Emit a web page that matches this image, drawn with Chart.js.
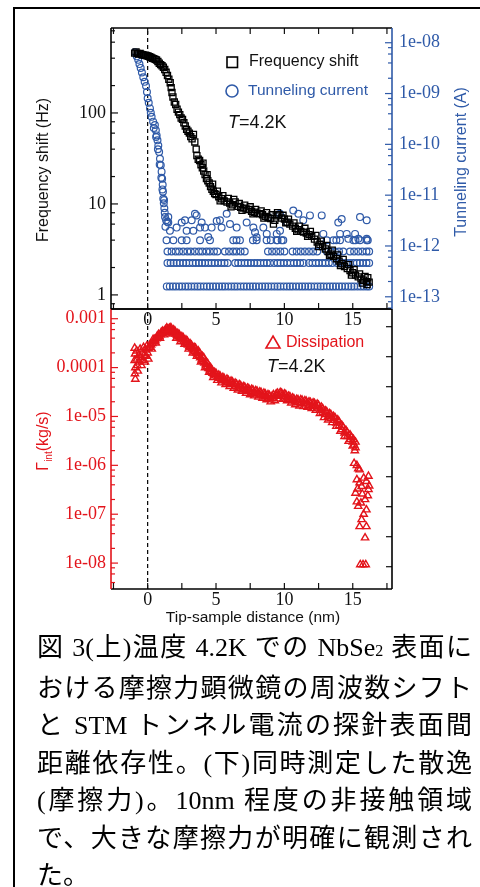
<!DOCTYPE html>
<html>
<head>
<meta charset="utf-8">
<script src="https://cdn.jsdelivr.net/npm/chart.js@4.4.1/dist/chart.umd.min.js"></script>
<style>
  html, body { margin: 0; padding: 0; background: #fff; }
  #page { position: relative; width: 480px; height: 887px; overflow: hidden; }
  #frame { position: absolute; left: 13px; top: 7px; width: 500px; height: 900px;
           border-left: 2px solid #000; border-top: 2px solid #000; }
  #bot { position: absolute; left: 0; top: 290px; z-index: 1; }
  #top { position: absolute; left: 0; top: 0; z-index: 2; }
  #cap { position: absolute; left: 37px; top: 629px; width: 435px; z-index: 3;
         font: 26px/37.5px "Liberation Serif", "Noto Sans CJK JP"; color: #000; }
  #cap div { text-align: justify; text-align-last: justify; white-space: nowrap; }
  #cap div.last { text-align-last: left; }
  #cap .sub { font-size: 16px; }
</style>
</head>
<body>
<div id="page">
  <div id="frame"></div>
  <canvas id="bot" width="480" height="350"></canvas>
  <canvas id="top" width="480" height="340"></canvas>
  <div id="cap">
    <div>図 3(上)温度 4.2K での NbSe<span class="sub">2</span> 表面に</div>
    <div>おける摩擦力顕微鏡の周波数シフト</div>
    <div>と STM トンネル電流の探針表面間</div>
    <div>距離依存性。(下)同時測定した散逸</div>
    <div>(摩擦力)。10nm 程度の非接触領域</div>
    <div>で、大きな摩擦力が明確に観測され</div>
    <div class="last">た。</div>
  </div>
</div>
<script>
// ── Data ───────────────────────────────────────────────
const X_MIN = -2.68, X_MAX = 17.87;
const xTickValues = [-2.5, 0, 2.5, 5, 7.5, 10, 12.5, 15, 17.5];
const xTickLabels = ['', '0', '', '5', '', '10', '', '15', ''];

const freqMajor = [1, 10, 100];
const freqMajorLabels = ['1', '10', '100'];
const freqMinor = [0.8, 2, 4, 6, 8, 20, 40, 60, 80, 200, 400, 600, 800];

const currentMajor = [1e-13, 1e-12, 1e-11, 1e-10, 1e-9, 1e-8];
const currentMajorLabels = ['1e-13', '1e-12', '1e-11', '1e-10', '1e-09', '1e-08'];
const currentMinor = [6e-14, 8e-14, 2e-13, 4e-13, 6e-13, 8e-13, 2e-12, 4e-12, 6e-12, 8e-12,
  2e-11, 4e-11, 6e-11, 8e-11, 2e-10, 4e-10, 6e-10, 8e-10, 2e-9, 4e-9, 6e-9, 8e-9];

const dissMajor = [1e-8, 1e-7, 1e-6, 1e-5, 1e-4, 1e-3];
const dissMajorLabels = ['1e-08', '1e-07', '1e-06', '1e-05', '0.0001', '0.001'];
const dissMinor = [4e-9, 6e-9, 8e-9, 2e-8, 4e-8, 6e-8, 8e-8, 2e-7, 4e-7, 6e-7, 8e-7,
  2e-6, 4e-6, 6e-6, 8e-6, 2e-5, 4e-5, 6e-5, 8e-5, 2e-4, 4e-4, 6e-4, 8e-4];
const dissRightTicks = [1, 2, 3, 4, 5, 6, 7, 8, 9];

// frequency shift (Hz) vs distance (nm)
const freqShift = [
  [-0.95,455],[-0.85,470],[-0.75,450],[-0.65,445],[-0.55,452],[-0.45,440],[-0.35,437],[-0.25,430],
  [-0.15,432],[-0.05,425],[0.05,420],[0.15,415],[0.25,408],[0.35,400],[0.45,396],[0.55,388],
  [0.65,382],[0.75,368],[0.85,352],[0.95,340],[1.05,330],[1.15,318],[1.25,300],[1.35,280],
  [1.45,258],[1.55,235],[1.65,215],[1.72,190],[1.78,168],[1.85,150],[1.95,132],[2.05,124],
  [2.15,110],[2.25,102],[2.35,96],[2.45,88],[2.55,85],[2.65,78],[2.75,72],[2.85,66],
  [2.95,63],[3.05,60],[3.15,55],[3.25,52],[3.35,58],[3.45,48],[3.55,40],[3.6,34],
  [3.7,31],[3.8,30],[3.9,27],[4.0,25],[4.1,23],[4.2,21],[4.3,19],[4.4,18],
  [4.5,17],[4.6,15.5],[4.7,14.5],[4.8,13.8],[4.9,13],[5.0,12.7],[5.2,12],[5.4,11.4],
  [5.6,10.8],[5.8,10.5],[6.0,10.2],[6.2,9.8],[6.4,10.5],[6.6,9.4],[6.8,9.2],[7.0,9.0],
  [7.2,8.8],[7.4,8.7],[7.6,8.3],[7.8,8.1],[8.0,7.9],[8.2,7.8],[8.4,7.6],[8.6,7.3],
  [8.8,7.1],[9.0,6.9],[9.2,6.0],[9.4,7.4],[9.6,7.6],[9.8,7.0],[10.0,6.8],[10.2,6.3],
  [10.4,6.0],[10.6,5.7],[10.8,5.4],[11.0,5.2],[11.2,5.0],[11.4,4.9],[11.6,4.8],[11.8,4.6],
  [12.0,4.4],[12.2,4.1],[12.4,3.8],[12.6,3.6],[12.8,3.4],[13.0,3.2],[13.2,3.0],[13.4,2.8],
  [13.6,2.65],[13.8,2.5],[14.0,2.35],[14.2,2.2],[14.4,2.05],[14.6,1.95],[14.8,1.85],[15.0,1.75],
  [15.2,1.65],[15.4,1.58],[15.6,1.5],[15.8,1.45],[16.0,1.4],[16.1,1.55],[16.2,1.38],
  [4.05,28],[4.35,21],[4.75,16.5],[5.1,13.8],[5.5,12.3],[5.9,11.5],[6.3,11.2],[6.7,10.1],
  [7.1,9.7],[7.5,9.3],[7.9,8.7],[8.3,8.4],[8.7,8.0],[9.1,7.6],[9.5,8.0],[9.9,7.5],
  [10.3,6.8],[10.7,6.2],[11.1,5.7],[11.5,5.4],[11.9,5.0],[12.3,4.5],[12.7,3.9],[13.1,3.5],
  [13.5,3.1],[13.9,2.75],[14.3,2.45],[14.7,2.15],[15.1,1.9],[15.5,1.7],[15.9,1.6],
  [5.3,10.8],[6.1,9.3],[6.9,8.5],[7.7,7.8],[8.5,7.0],[9.3,6.6],[10.1,6.2],[10.9,5.0],
  [11.7,4.4],[12.5,3.4],[13.3,2.7],[14.1,2.1],[14.9,1.65],[15.7,1.35],[16.05,1.3]
];

// tunneling current (A): steep part near contact
const tunnelCurve = [
  [-0.93,6.5e-9],[-0.8,5.4e-9],[-0.69,4.6e-9],[-0.6,3.8e-9],[-0.51,3.2e-9],[-0.42,2.6e-9],
  [-0.32,2.1e-9],[-0.22,1.7e-9],[-0.12,1.4e-9],[-0.05,1.07e-9],[0.0,8.1e-10],[0.08,6.6e-10],
  [0.17,5.1e-10],[0.23,4.2e-10],[0.29,3.5e-10],[0.4,2.8e-10],[0.53,2.4e-10],[0.6,1.9e-10],
  [0.66,1.5e-10],[0.72,1.2e-10],[0.78,9.5e-11],[0.84,7.1e-11],[0.9,5.2e-11],[0.96,3.9e-11],
  [1.02,2.9e-11],[1.06,2.1e-11],[1.1,1.6e-11],[1.12,1.17e-11],[1.14,8.5e-12],[1.18,6.9e-12],
  [1.22,5.5e-12],[1.25,4.5e-12],[1.27,3.7e-12],[1.35,3.2e-12],[1.44,3.0e-12],
  [0.45,2.1e-10],[0.62,1.4e-10],[0.75,8e-11],[0.88,4e-11],[1.0,2.2e-11],[1.08,1.3e-11],
  [1.2,8e-12],[1.3,2.4e-12]
];
// tunneling current: scattered noise above the floor
const tunnelNoise = [
  [1.51,3.7e-12],[1.51,2.9e-12],[1.63,2.0e-12],[2.12,2.3e-12],[2.49,2.9e-12],[2.73,3.2e-12],
  [2.85,2.0e-12],[3.22,3.2e-12],[3.34,2.0e-12],[3.46,4.3e-12],[3.58,4.0e-12],[3.83,2.3e-12],
  [3.95,2.9e-12],[4.19,2.3e-12],[4.43,1.5e-12],[4.68,2.3e-12],[5.05,3.1e-12],[5.29,3.2e-12],
  [5.41,2.3e-12],[5.78,4.3e-12],[6.02,2.7e-12],[6.51,2.3e-12],[7.24,2.9e-12],[7.73,2.3e-12],
  [7.85,1.86e-12],[7.97,1.48e-12],[8.46,2.3e-12],[8.71,1.73e-12],[8.82,3.7e-12],[9.44,1.73e-12],
  [9.68,2.0e-12],[9.68,4.3e-12],[10.17,2.9e-12],[10.65,5.0e-12],[11.02,4.3e-12],[11.38,3.2e-12],
  [11.87,4.0e-12],[12.73,4.0e-12],[12.85,1.73e-12],[13.94,2.9e-12],[14.19,3.4e-12],[14.07,1.73e-12],
  [14.56,1.73e-12],[14.68,1.38e-12],[15.17,1.73e-12],[15.41,1.38e-12],[15.53,3.7e-12],[16.02,3.2e-12],
  [16.02,1.38e-12]
];
// tunneling current: quantised floor rows (level, distances)
const floorLevels = [1.6e-13, 4.6e-13, 7.8e-13, 1.3e-12];
const floorDist = [
  [1.40,1.62,1.85,2.07,2.31,2.52,2.76,2.97,3.20,3.43,3.65,3.86,4.10,4.33,4.55,4.78,5.00,5.23,
   5.45,5.66,5.90,6.13,6.35,6.56,6.80,7.03,7.25,7.48,7.70,7.91,8.15,8.38,8.60,8.82,9.05,9.28,
   9.50,9.71,9.95,10.18,10.40,10.61,10.85,11.08,11.30,11.52,11.75,11.96,12.20,12.43,12.65,12.86,
   13.10,13.33,13.55,13.77,14.00,14.21,14.45,14.68,14.90,15.11,15.35,15.58,15.80,16.02,16.20],
  [1.45,1.68,1.90,2.12,2.35,2.60,2.82,3.05,3.30,3.52,3.75,3.98,4.20,4.45,4.68,4.90,5.15,5.40,
   5.62,5.85,6.40,6.62,6.85,7.10,7.32,7.55,7.80,8.02,8.25,8.50,8.72,8.95,9.25,9.50,9.72,9.95,
   10.20,10.45,10.70,10.92,11.15,11.40,11.80,12.05,12.30,12.52,12.78,13.00,13.25,13.50,13.85,
   14.10,14.32,14.55,14.80,15.05,15.30,15.52,15.75,16.00,16.20],
  [1.45,1.75,2.05,2.30,2.60,2.90,3.15,3.45,3.75,4.00,4.30,4.55,4.85,5.10,5.65,5.95,6.25,6.50,
   6.80,7.10,8.80,9.10,9.40,9.70,10.00,10.60,10.90,11.20,11.50,11.80,12.10,12.40,13.10,13.40,
   13.70,14.00,14.30,14.80,15.10,15.40,15.70,16.00,16.20],
  [1.38,1.88,2.49,2.85,3.83,4.56,6.26,6.50,6.75,7.70,7.97,8.70,9.00,9.43,9.50,9.80,9.92,13.10,
   13.58,13.80,14.07,15.05,15.20,15.53,16.02,16.10]
];

// dissipation (kg/s) vs distance (nm)
const dissipation = [
  [-0.95,2.5e-4],[-0.92,1.9e-4],[-0.95,1.4e-4],[-0.9,1.0e-4],[-0.93,7.5e-5],[-0.9,5.8e-5],
  [-0.8,2.2e-4],[-0.78,1.5e-4],[-0.75,1.1e-4],[-0.72,8.5e-5],[-0.65,1.8e-4],[-0.6,1.3e-4],
  [-0.55,2.4e-4],[-0.5,1.6e-4],[-0.45,1.1e-4],[-0.4,2.0e-4],[-0.35,1.4e-4],[-0.3,2.6e-4],
  [-0.25,1.8e-4],[-0.2,1.3e-4],[-0.15,2.3e-4],[-0.1,1.7e-4],[-0.05,2.8e-4],[0.0,2.0e-4],
  [0.05,1.5e-4],[0.05,2.5e-4],
  [0.15,2.6e-4],[0.25,2.9e-4],[0.35,3.1e-4],[0.45,3.4e-4],[0.55,3.6e-4],[0.65,3.9e-4],
  [0.75,4.1e-4],[0.85,4.4e-4],[0.95,4.7e-4],[1.05,5.0e-4],[1.15,5.3e-4],[1.25,5.5e-4],
  [1.35,5.8e-4],[1.45,6.0e-4],[1.55,6.1e-4],[1.65,6.0e-4],[1.75,5.8e-4],[1.85,5.5e-4],
  [1.95,5.2e-4],[2.05,4.9e-4],[2.15,4.6e-4],[2.25,4.3e-4],[2.35,4.1e-4],[2.45,3.9e-4],
  [2.55,3.7e-4],[2.65,3.5e-4],[2.75,3.3e-4],[2.85,3.1e-4],[2.95,2.9e-4],[3.05,2.7e-4],
  [3.15,2.6e-4],[3.25,2.45e-4],[3.35,2.3e-4],[3.45,2.15e-4],[3.55,2.0e-4],[3.65,1.9e-4],
  [3.75,1.75e-4],[3.85,1.6e-4],[3.95,1.45e-4],[4.05,1.35e-4],[4.15,1.25e-4],[4.25,1.15e-4],
  [4.35,1.05e-4],[4.45,9.6e-5],[4.55,9.0e-5],[4.65,8.3e-5],[4.75,7.7e-5],[4.85,7.2e-5],
  [4.95,6.8e-5],[5.1,6.4e-5],[5.25,6.1e-5],[5.4,5.7e-5],[5.55,5.4e-5],[5.7,5.1e-5],
  [5.85,4.9e-5],[6.0,4.7e-5],[6.2,4.5e-5],[6.4,4.2e-5],[6.6,4.0e-5],[6.8,3.8e-5],
  [7.0,3.6e-5],[7.2,3.4e-5],[7.4,3.3e-5],[7.6,3.1e-5],[7.8,3.0e-5],[8.0,2.9e-5],
  [8.2,2.8e-5],[8.4,2.7e-5],[8.6,2.55e-5],[8.8,2.4e-5],[9.0,2.3e-5],[9.2,2.4e-5],
  [9.4,2.6e-5],[9.6,2.7e-5],[9.8,2.6e-5],[10.0,2.55e-5],[10.2,2.4e-5],[10.4,2.2e-5],
  [10.6,2.1e-5],[10.8,2.0e-5],[11.0,1.95e-5],[11.2,1.9e-5],[11.4,1.85e-5],[11.6,1.8e-5],
  [11.8,1.7e-5],[12.0,1.65e-5],[12.2,1.6e-5],[12.4,1.5e-5],[12.6,1.35e-5],[12.8,1.2e-5],
  [13.0,1.1e-5],[13.2,1.0e-5],[13.4,9.2e-6],[13.6,8.4e-6],[13.8,7.4e-6],[14.0,6.5e-6],
  [14.2,5.4e-6],[14.4,4.6e-6],[14.6,3.9e-6],[14.8,3.4e-6],[15.0,3.0e-6],[15.1,2.6e-6],
  [15.2,2.3e-6],
  [0.3,2.4e-4],[0.6,3.2e-4],[0.9,4.0e-4],[1.2,4.7e-4],[1.5,5.2e-4],[1.8,4.9e-4],[2.1,4.0e-4],
  [2.4,3.4e-4],[2.7,3.0e-4],[3.0,2.4e-4],[3.3,2.0e-4],[3.6,1.7e-4],[3.9,1.3e-4],[4.2,1.0e-4],
  [4.5,8.0e-5],[4.8,6.3e-5],[5.1,5.5e-5],[5.4,4.9e-5],[5.7,4.5e-5],[6.0,4.1e-5],[6.3,3.8e-5],
  [6.6,3.5e-5],[6.9,3.3e-5],[7.2,3.0e-5],[7.5,2.8e-5],[7.8,2.65e-5],[8.1,2.5e-5],[8.4,2.35e-5],
  [8.7,2.2e-5],[9.0,2.0e-5],[9.3,2.1e-5],[9.6,2.3e-5],[9.9,2.25e-5],[10.2,2.1e-5],[10.5,1.9e-5],
  [10.8,1.75e-5],[11.1,1.65e-5],[11.4,1.6e-5],[11.7,1.55e-5],[12.0,1.45e-5],[12.3,1.35e-5],
  [12.6,1.15e-5],[12.9,9.5e-6],[13.2,8.5e-6],[13.5,7.5e-6],[13.8,6.3e-6],[14.1,5.0e-6],
  [14.4,3.9e-6],[14.7,3.1e-6],[15.0,2.5e-6],[15.15,2.0e-6],
  [0.4,3.8e-4],[0.8,4.8e-4],[1.1,5.6e-4],[1.4,6.5e-4],[1.7,6.6e-4],[2.0,5.6e-4],[2.3,4.8e-4],
  [2.6,4.1e-4],[2.9,3.5e-4],[3.2,2.9e-4],[3.5,2.5e-4],[3.8,2.0e-4],[4.1,1.6e-4],[4.4,1.2e-4],
  [4.7,9.0e-5],[5.0,7.6e-5],[5.3,6.7e-5],[5.6,6.0e-5],[5.9,5.5e-5],[6.2,5.1e-5],[6.5,4.6e-5],
  [6.8,4.3e-5],[7.1,4.0e-5],[7.4,3.7e-5],[7.7,3.5e-5],[8.0,3.3e-5],[8.3,3.1e-5],[8.6,2.9e-5],
  [8.9,2.7e-5],[9.2,2.8e-5],[9.5,3.0e-5],[9.8,3.0e-5],[10.1,2.8e-5],[10.4,2.55e-5],[10.7,2.3e-5],
  [11.0,2.2e-5],[11.3,2.15e-5],[11.6,2.05e-5],[11.9,1.95e-5],[12.2,1.85e-5],[12.5,1.7e-5],
  [12.8,1.45e-5],[13.1,1.25e-5],[13.4,1.1e-5],[13.7,9.5e-6],[14.0,7.8e-6],[14.3,6.0e-6],
  [14.6,4.7e-6],[14.9,3.8e-6],[15.2,3.0e-6],
  [0.2,3.0e-4],[0.5,3.8e-4],[0.7,4.4e-4],[1.0,5.3e-4],[1.3,6.0e-4],[1.6,6.4e-4],[1.9,5.9e-4],
  [2.2,5.0e-4],[2.5,4.3e-4],[2.8,3.7e-4],[3.1,3.1e-4],[3.4,2.6e-4],[3.7,2.2e-4],[4.0,1.7e-4],
  [4.3,1.3e-4],[4.6,1.0e-4],[4.9,8.0e-5],[5.2,7.0e-5],[5.5,6.3e-5],[5.8,5.8e-5],[6.1,5.3e-5],
  [6.4,4.8e-5],[6.7,4.5e-5],[7.0,4.1e-5],[7.3,3.8e-5],[7.6,3.6e-5],[7.9,3.4e-5],[8.2,3.2e-5],
  [8.5,3.0e-5],[8.8,2.8e-5],[9.1,2.6e-5],[9.4,2.9e-5],[9.7,3.1e-5],[10.0,2.9e-5],[10.3,2.6e-5],
  [10.6,2.4e-5],[10.9,2.25e-5],[11.2,2.2e-5],[11.5,2.1e-5],[11.8,2.0e-5],[12.1,1.9e-5],
  [12.4,1.8e-5],[12.7,1.55e-5],[13.0,1.3e-5],[13.3,1.15e-5],[13.6,1.0e-5],[13.9,8.5e-6],
  [14.2,6.6e-6],[14.5,5.2e-6],[14.8,4.2e-6],[15.05,3.4e-6],
  [15.1,1.1e-6],[15.3,1.0e-6],[15.4,8.5e-7],[15.5,8.1e-7],[15.3,5.1e-7],[16.0,4.7e-7],
  [15.65,3.7e-7],[16.15,3.2e-7],[16.15,6.0e-7],[15.2,2.7e-7],[15.9,2.0e-7],[15.4,1.45e-7],
  [16.0,1.23e-7],[15.65,7.8e-8],[16.0,5.6e-8],[15.5,5.6e-8],[15.9,3.3e-8],[15.55,9.3e-9],
  [15.75,9.3e-9],[15.95,9.3e-9],[15.5,4.4e-7],[15.8,5.5e-7],[15.7,2.6e-7],[16.1,2.4e-7],
  [15.35,3.3e-7],[15.6,1.7e-7],[15.8,1.0e-7],[15.3,1.8e-7],[16.2,3.8e-7]
];

// ── Styles ─────────────────────────────────────────────
const BLACK = '#111', BLUE = '#2f5aa8', RED = '#e3141b';
const SERIF = { family: '"Liberation Serif", serif', size: 18, lineHeight: 1 };
const SANS = '"Liberation Sans", Arial, sans-serif';

// ── Helpers ────────────────────────────────────────────
const pts = list => list.map(p => ({ x: p[0], y: p[1] }));

function tickList(major, minor) {
  return major.map(v => ({ value: v, major: true }))
    .concat(minor.map(v => ({ value: v, major: false })))
    .sort((a, b) => a.value - b.value);
}

function logAxis(pos, min, max, major, minor, labels, color, width, pad) {
  return {
    type: 'logarithmic', position: pos, min, max,
    grid: { display: false, drawTicks: false }, border: { display: false },
    afterBuildTicks: s => { s.ticks = tickList(major, minor); },
    afterFit: s => { s.width = width; },
    ticks: {
      autoSkip: false, padding: pad, color, font: SERIF,
      callback: v => { const i = major.indexOf(v); return i >= 0 ? labels[i] : ''; }
    }
  };
}

function xAxis(height) {
  return {
    type: 'linear', position: 'bottom', min: X_MIN, max: X_MAX,
    grid: { display: false, drawTicks: false }, border: { display: false },
    afterBuildTicks: s => { s.ticks = xTickValues.map(v => ({ value: v })); },
    afterFit: s => { s.height = height; },
    ticks: {
      autoSkip: false, maxRotation: 0, padding: 2, color: BLACK, font: SERIF,
      callback: (v, i) => xTickLabels[i]
    }
  };
}

function vline(yAxisID, lo, hi) {
  return {
    type: 'line', data: [{ x: 0, y: lo }, { x: 0, y: hi }], yAxisID,
    showLine: true, borderColor: '#000', borderWidth: 1.2, borderDash: [4, 3],
    pointRadius: 0
  };
}

function temp(ctx, x, y) {
  ctx.fillStyle = BLACK; ctx.textAlign = 'left'; ctx.textBaseline = 'middle';
  ctx.font = 'italic 18px ' + SANS;
  ctx.fillText('T', x, y);
  const w = ctx.measureText('T').width;
  ctx.font = '18px ' + SANS;
  ctx.fillText('=4.2K', x + w, y);
}

function vtext(ctx, str, x, y, color, size) {
  ctx.save();
  ctx.translate(x, y); ctx.rotate(-Math.PI / 2);
  ctx.fillStyle = color; ctx.font = size + 'px ' + SANS;
  ctx.textAlign = 'center'; ctx.textBaseline = 'middle';
  ctx.fillText(str, 0, 0);
  ctx.restore();
}

// tick marks drawn inward + frame + texts
function deco(cfg) {
  return {
    id: 'deco',
    afterDatasetsDraw(chart) {
      const ctx = chart.ctx, a = chart.chartArea;
      ctx.save();
      ctx.lineWidth = 1.2;
      cfg.ticks.forEach(t => {
        const s = chart.scales[t.axis];
        ctx.strokeStyle = t.color;
        s.ticks.forEach(tk => {
          const p = s.getPixelForValue(tk.value);
          const len = tk.label ? t.major : t.minor;
          ctx.beginPath();
          if (t.side === 'left')   { ctx.moveTo(a.left, p);   ctx.lineTo(a.left + len, p); }
          if (t.side === 'right')  { ctx.moveTo(a.right, p);  ctx.lineTo(a.right - len, p); }
          if (t.side === 'top')    { ctx.moveTo(p, a.top);    ctx.lineTo(p, a.top + len); }
          if (t.side === 'bottom') { ctx.moveTo(p, a.bottom); ctx.lineTo(p, a.bottom - len); }
          ctx.stroke();
        });
      });
      ctx.lineWidth = 1.6;
      const side = (c, x1, y1, x2, y2) => {
        ctx.strokeStyle = c; ctx.beginPath(); ctx.moveTo(x1, y1); ctx.lineTo(x2, y2); ctx.stroke();
      };
      side(cfg.frame.top, a.left, a.top, a.right, a.top);
      side(cfg.frame.bottom, a.left, a.bottom, a.right, a.bottom);
      side(cfg.frame.left, a.left, a.top, a.left, a.bottom);
      side(cfg.frame.right, a.right, a.top, a.right, a.bottom);
      cfg.draw(ctx);
      ctx.restore();
    }
  };
}

const base = {
  responsive: false, animation: false,
  plugins: { legend: { display: false }, tooltip: { enabled: false } }
};

// ── Top chart: frequency shift + tunneling current ─────
const curMin = 5.75e-14, curMax = 1.95e-8, fMin = 0.72, fMax = 859;
const floorPts = [];
floorLevels.forEach((lvl, i) => floorDist[i].forEach(x => floorPts.push({ x, y: lvl })));

new Chart(document.getElementById('top'), {
  type: 'scatter',
  data: {
    datasets: [
      { data: pts(freqShift), yAxisID: 'y', pointStyle: 'rect', pointRadius: 4.3,
        borderColor: '#000', borderWidth: 1.3, backgroundColor: 'rgba(255,255,255,0)' },
      { data: pts(tunnelCurve).concat(pts(tunnelNoise), floorPts), yAxisID: 'y2',
        pointStyle: 'circle', pointRadius: 3.4, borderColor: BLUE, borderWidth: 1.2,
        backgroundColor: 'rgba(255,255,255,0)' },
      vline('y', fMin, fMax)
    ]
  },
  options: Object.assign({}, base, {
    layout: { padding: { top: 28, left: 0, right: 0, bottom: 0 } },
    scales: {
      x: xAxis(31),
      y: logAxis('left', fMin, fMax, freqMajor, freqMinor, freqMajorLabels, BLACK, 111, 5),
      y2: logAxis('right', curMin, curMax, currentMajor, currentMinor, currentMajorLabels, BLUE, 88, 7)
    }
  }),
  plugins: [deco({
    ticks: [
      { axis: 'y', side: 'left', major: 7, minor: 4, color: BLACK },
      { axis: 'y2', side: 'right', major: 7, minor: 4, color: BLUE },
      { axis: 'x', side: 'top', major: 6, minor: 6, color: BLACK },
      { axis: 'x', side: 'bottom', major: 6, minor: 6, color: BLACK }
    ],
    frame: { top: '#000', bottom: '#000', left: '#000', right: BLUE },
    draw(ctx) {
      vtext(ctx, 'Frequency shift (Hz)', 44, 170, BLACK, 16);
      vtext(ctx, 'Tunneling current (A)', 462, 162, BLUE, 16);
      ctx.lineWidth = 1.6;
      ctx.strokeStyle = '#000';
      ctx.strokeRect(227, 57, 10.5, 10.5);
      ctx.strokeStyle = BLUE;
      ctx.beginPath(); ctx.arc(232, 91, 6, 0, Math.PI * 2); ctx.stroke();
      ctx.font = '16px ' + SANS; ctx.textAlign = 'left'; ctx.textBaseline = 'middle';
      ctx.fillStyle = BLACK; ctx.fillText('Frequency shift', 249, 62);
      ctx.font = '15.5px ' + SANS;
      ctx.fillStyle = BLUE; ctx.fillText('Tunneling current', 248, 91);
      temp(ctx, 228, 123);
    }
  })]
});

// ── Bottom chart: dissipation ──────────────────────────
const dMin = 2.95e-9, dMax = 1.58e-3;
new Chart(document.getElementById('bot'), {
  type: 'scatter',
  data: {
    datasets: [
      { data: pts(dissipation), yAxisID: 'y', pointStyle: 'triangle', pointRadius: 4.2,
        borderColor: RED, borderWidth: 1.4, backgroundColor: 'rgba(255,255,255,0)' },
      vline('y', dMin, dMax)
    ]
  },
  options: Object.assign({}, base, {
    layout: { padding: { top: 19, left: 0, right: 0, bottom: 0 } },
    scales: {
      x: xAxis(51),
      y: logAxis('left', dMin, dMax, dissMajor, dissMinor, dissMajorLabels, RED, 111, 5),
      yR: {
        type: 'linear', position: 'right', min: 0.257, max: 9.59,
        grid: { display: false, drawTicks: false }, border: { display: false },
        afterBuildTicks: s => { s.ticks = dissRightTicks.map(v => ({ value: v })); },
        afterFit: s => { s.width = 88; },
        ticks: { display: true, callback: () => '', padding: 0 }
      }
    }
  }),
  plugins: [deco({
    ticks: [
      { axis: 'y', side: 'left', major: 7, minor: 4, color: RED },
      { axis: 'yR', side: 'right', major: 6, minor: 6, color: BLACK },
      { axis: 'x', side: 'bottom', major: 6, minor: 6, color: BLACK }
    ],
    frame: { top: '#000', bottom: '#000', left: RED, right: '#000' },
    draw(ctx) {
      // Γint(kg/s), rotated
      ctx.save();
      ctx.translate(44, 151); ctx.rotate(-Math.PI / 2);
      ctx.fillStyle = RED; ctx.textAlign = 'left'; ctx.textBaseline = 'middle';
      ctx.font = '16px ' + SANS; const wG = ctx.measureText('Γ').width;
      const wK = ctx.measureText('(kg/s)').width;
      ctx.font = '10px ' + SANS; const wI = ctx.measureText('int').width;
      const x0 = -(wG + wI + wK) / 2;
      ctx.font = '16px ' + SANS; ctx.fillText('Γ', x0, 0);
      ctx.font = '10px ' + SANS; ctx.fillText('int', x0 + wG, 5);
      ctx.font = '16px ' + SANS; ctx.fillText('(kg/s)', x0 + wG + wI, 0);
      ctx.restore();
      // legend
      ctx.lineWidth = 1.6; ctx.strokeStyle = RED;
      ctx.beginPath(); ctx.moveTo(273, 46); ctx.lineTo(280, 58); ctx.lineTo(266, 58); ctx.closePath(); ctx.stroke();
      ctx.font = '16px ' + SANS; ctx.textAlign = 'left'; ctx.textBaseline = 'middle';
      ctx.fillStyle = RED; ctx.fillText('Dissipation', 286, 53);
      temp(ctx, 267, 77);
      ctx.font = '15.5px ' + SANS; ctx.textAlign = 'center'; ctx.fillStyle = BLACK;
      ctx.fillText('Tip-sample distance (nm)', 253, 328);
    }
  })]
});
</script>
</body>
</html>
